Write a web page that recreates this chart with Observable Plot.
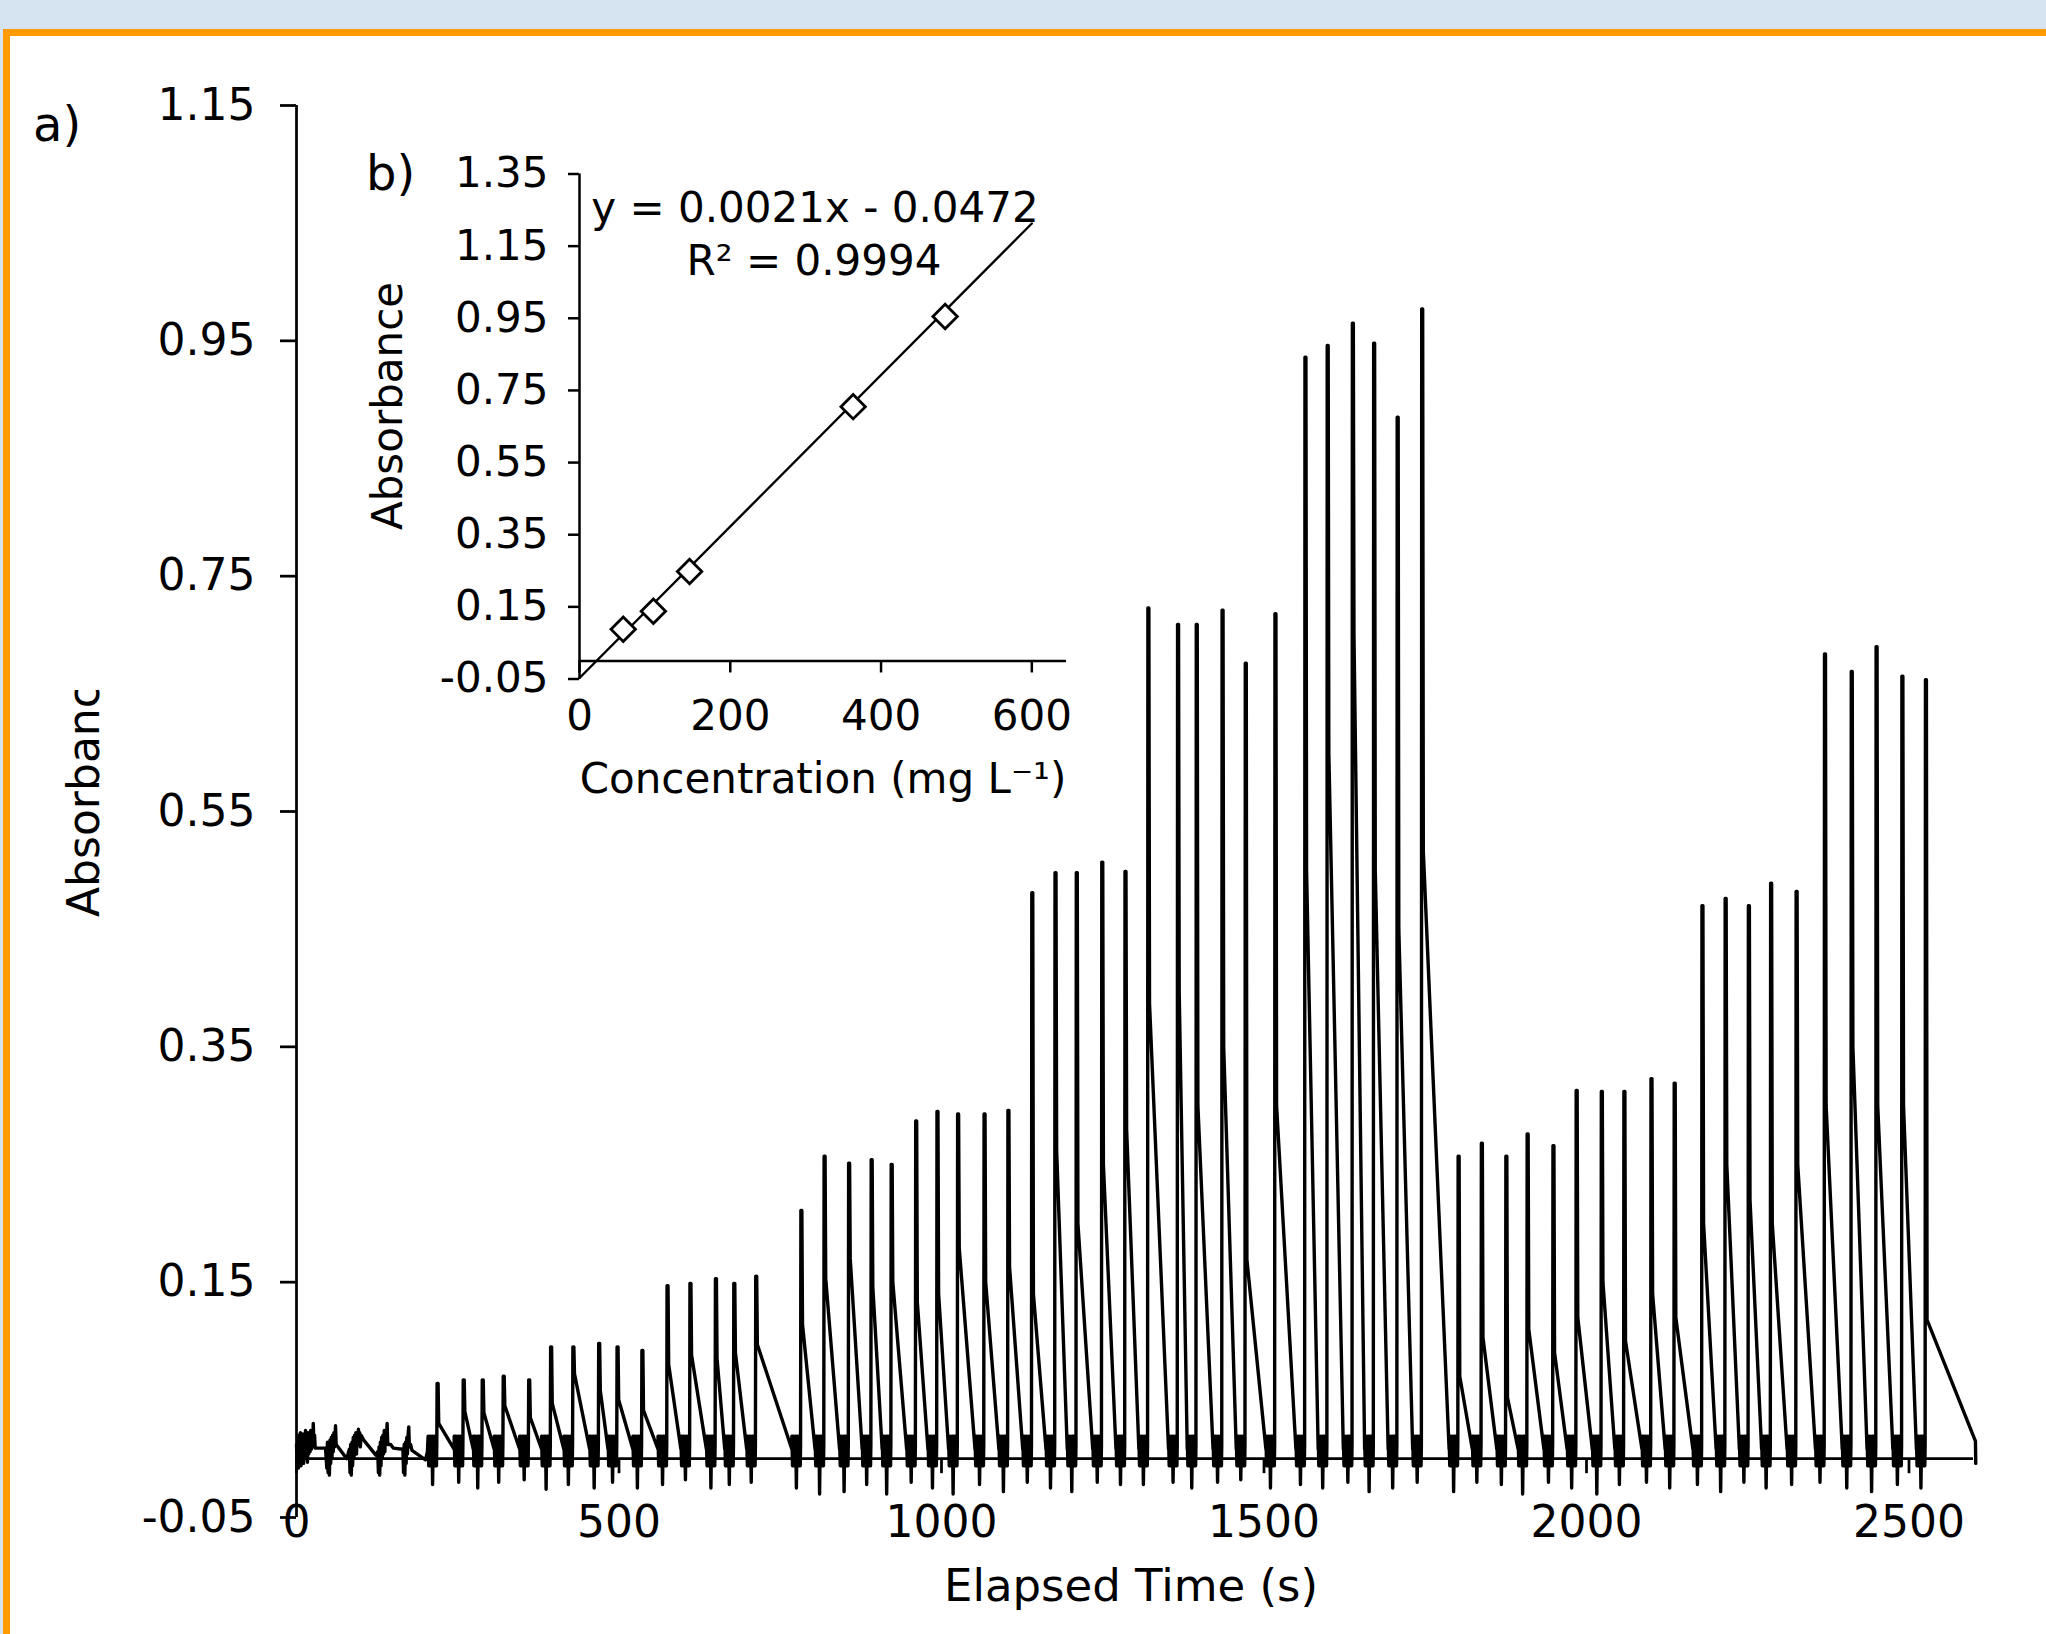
<!DOCTYPE html>
<html><head><meta charset="utf-8">
<script src="https://cdn.jsdelivr.net/npm/d3@7"></script>
<script src="https://cdn.jsdelivr.net/npm/@observablehq/plot@0.6"></script>
<style>
html, body { margin:0; padding:0; }
body { width:2046px; height:1634px; position:relative; overflow:hidden; background:#d6e4f2; font-family:"DejaVu Sans", Verdana, sans-serif; }
#frame { position:absolute; left:3px; top:29px; width:2100px; height:1700px; box-sizing:border-box; border-top:7px solid #ff9a00; border-left:7px solid #ff9a00; background:#fff; }
#chart, #inset { position:absolute; left:0; top:0; }
</style></head>
<body>
<div id="frame"></div>
<div id="chart"></div>
<div id="inset"></div>
<script>
// ---------- data: panel a) absorbance trace ----------
const mainXTicks = [0, 500, 1000, 1500, 2000, 2500];
const mainYTicks = [-0.05, 0.15, 0.35, 0.55, 0.75, 0.95, 1.15];

// start of the record: small zig-zag responses (time s, absorbance)
const startTimes = [0,1,2,3,4,5,6,7,8,9,10,11,12,13,14,15,16,17,18,19,20,21,22,23,24,25,26,27,28,29,45,47,48,49,50,51,52,53,54,55,56,57,58,59,60.5,61.5,78,82,83,84,85,86,87,88,89,90,91,92,93,94,95,96,97,98,99,100,104,123,126,127,128,129,130,131,132,133,134,135,136,137,138,139,140.5,141.5,146,150,165,166,167,168,169,170,171,172,173,174,175,177,179,200,203];
const startAbs = [0.012,-0.005,0.018,-0.008,0.02,0,0.022,-0.006,0.018,0.002,0.021,-0.004,0.019,0.005,0.024,0.002,0.02,-0.003,0.022,0.004,0.02,0.006,0.024,0.008,0.022,0.01,0.030,0.012,0.02,0.009,0.009,-0.008,0.014,-0.012,0.012,-0.014,0.016,-0.004,0.018,0,0.02,0.006,0.022,0.01,0.028,0.012,0,0.008,-0.012,0.012,-0.014,0.014,-0.006,0.018,0,0.02,0.006,0.022,0.004,0.02,0.012,0.025,0.012,0.022,0.01,0.02,0.016,0.003,0.006,-0.012,0.01,-0.014,0.014,-0.006,0.018,0,0.02,0.004,0.024,0.006,0.022,0.012,0.030,0.012,0.012,0.009,0.008,-0.012,0.012,-0.014,0.014,-0.004,0.018,0.004,0.02,0.027,0.01,0.012,0.007,-0.001,0.006];

// injection peaks: rise time, peak top, level after the fast drop, deepest baseline dip
const riseTimes = [218,258.5,288,320.5,360, 394,428.5,468.5,497,535.5, 574.5,610,649.5,678,712, 782,818,856,891,922, 960,993,1025,1066,1103, 1140,1176,1209,1248.5,1284.5, 1320,1366,1395,1435,1471,1517, 1563.5,1598,1637,1670,1706.5,1744.5, 1801,1837,1875,1908,1948, 1984,2023,2058,2100,2136, 2179,2215,2251,2285.5,2325, 2369,2410.5,2449,2489,2525.5];
const peakHeights = [0.064,0.067,0.067,0.070,0.067, 0.095,0.095,0.098,0.095,0.092, 0.147,0.149,0.153,0.149,0.155, 0.211,0.257,0.251,0.254,0.250, 0.287,0.295,0.293,0.293,0.296, 0.481,0.498,0.498,0.507,0.499, 0.723,0.709,0.709,0.721,0.676,0.718, 0.936,0.946,0.965,0.948,0.885,0.977, 0.257,0.268,0.257,0.276,0.266, 0.313,0.312,0.312,0.323,0.319, 0.470,0.476,0.470,0.489,0.482, 0.684,0.669,0.690,0.665,0.662];
const kinkLevels = [0.030,0.040,0.039,0.045,0.035, 0.047,0.072,0.058,0.050,0.041, 0.080,0.088,0.085,0.090,0.097, 0.114,0.153,0.170,0.146,0.150, 0.133,0.140,0.179,0.150,0.163, 0.140,0.262,0.200,0.250,0.280, 0.387,0.397,0.300,0.350,0.169,0.300, 0.500,0.600,0.700,0.500,0.450,0.516, 0.070,0.103,0.052,0.110,0.090, 0.120,0.150,0.100,0.140,0.120, 0.200,0.250,0.220,0.200,0.250, 0.300,0.350,0.300,0.300,0.118];
const dipLevels = [-0.022,-0.02,-0.025,-0.02,-0.018, -0.026,-0.022,-0.025,-0.02,-0.025, -0.022,-0.018,-0.025,-0.022,-0.02, -0.025,-0.03,-0.028,-0.022,-0.03, -0.02,-0.025,-0.03,-0.022,-0.028, -0.02,-0.025,-0.028,-0.02,-0.022, -0.022,-0.02,-0.025,-0.02,-0.018,-0.025, -0.022,-0.025,-0.02,-0.028,-0.025,-0.02, -0.028,-0.02,-0.022,-0.03,-0.02, -0.025,-0.03,-0.022,-0.02,-0.025, -0.022,-0.028,-0.02,-0.025,-0.022, -0.02,-0.025,-0.028,-0.022,-0.025];
const blobTop = 0.019;
const blobLow = -0.006;
const tailTimes = [2603, 2603.5];
const tailAbs = [0.015, -0.004];

// ---------- data: panel b) calibration ----------
const calConc = [58, 98, 146, 363, 485];
const calAbs = [0.088, 0.138, 0.248, 0.705, 0.955];
const fitConc = [0, 600];
const fitAbs = [-0.0472, 1.2128];
const insetXTicks = [0, 200, 400, 600];
const insetYTicks = [-0.05, 0.15, 0.35, 0.55, 0.75, 0.95, 1.15, 1.35];

// ---------- build trace table ----------
const trace = startTimes.map((t, i) => ({t, a: startAbs[i]}));
riseTimes.forEach((t, i) => {
  for (let k = 0, s = t - 14; s < t - 0.5; k++, s += 1)
    trace.push({t: s, a: k === 7 ? dipLevels[i] : (k % 2 ? blobLow : blobTop)});
  trace.push({t: t - 0.5, a: 0.012}, {t, a: peakHeights[i]}, {t: t + 1.5, a: peakHeights[i]}, {t: t + 2.5, a: kinkLevels[i]});
  if (i + 1 < riseTimes.length) trace.push({t: riseTimes[i + 1] - 14, a: 0.008});
});
tailTimes.forEach((t, i) => trace.push({t, a: tailAbs[i]}));

const cal = calConc.map((c, i) => ({c, a: calAbs[i]}));
const fit = fitConc.map((c, i) => ({c, a: fitAbs[i]}));

const W = 2046, H = 1634;
const FONT = "'DejaVu Sans', Verdana, sans-serif";
const fmt = d => d.toFixed(2);

const main = Plot.plot({
  width: W, height: H,
  marginLeft: 296, marginRight: 73, marginTop: 105, marginBottom: 117,
  x: {domain: [0, 2600], axis: null},
  y: {domain: [-0.05, 1.15], axis: null},
  style: {background: "transparent", fontFamily: FONT, fontSize: "44px", color: "#000", overflow: "visible"},
  marks: [
    Plot.ruleY([0], {stroke: "#000", strokeWidth: 2.75}),
    Plot.ruleX([0], {stroke: "#000", strokeWidth: 2.75}),
    Plot.ruleX(mainXTicks, {x: d => d, y1: 0, y2: 0, insetBottom: -15, stroke: "#000", strokeWidth: 2.75}),
    Plot.axisY(mainYTicks, {tickSize: 16, tickPadding: 25, tickFormat: fmt, strokeWidth: 2.75, label: null}),
    Plot.text(mainXTicks, {x: d => d, y: () => -0.05, dy: 5, lineAnchor: "middle", text: d => String(d), fill: "#000"}),
    Plot.line(trace, {x: "t", y: "a", stroke: "#000", strokeWidth: 3.4})
  ]
});
document.getElementById("chart").append(main);

const inset = Plot.plot({
  width: W, height: H,
  marginLeft: 579, marginRight: 980, marginTop: 173.5, marginBottom: 955.5,
  x: {domain: [0, 646], axis: null},
  y: {domain: [-0.05, 1.35], axis: null},
  style: {background: "transparent", fontFamily: FONT, fontSize: "42px", color: "#000", overflow: "visible"},
  marks: [
    Plot.ruleY([0], {stroke: "#000", strokeWidth: 2.5}),
    Plot.ruleX([0], {stroke: "#000", strokeWidth: 2.5}),
    Plot.ruleX(insetXTicks, {x: d => d, y1: 0, y2: 0, insetBottom: -12, stroke: "#000", strokeWidth: 2.5}),
    Plot.axisY(insetYTicks, {tickSize: 11, tickPadding: 20, tickFormat: fmt, strokeWidth: 2.5, label: null}),
    Plot.text(insetXTicks, {x: d => d, y: () => -0.05, dy: 38, lineAnchor: "middle", text: d => String(d), fill: "#000"}),
    Plot.line(fit, {x: "c", y: "a", stroke: "#000", strokeWidth: 2.4}),
    Plot.dot(cal, {x: "c", y: "a", symbol: "diamond2", r: 11, fill: "#fff", stroke: "#000", strokeWidth: 2.8})
  ]
});
document.getElementById("inset").append(inset);

// ---------- titles ----------
const s = d3.select(main);
function label(sel, x, y, txt, size, anchor) {
  return sel.append("text").attr("x", x).attr("y", y).attr("font-size", size)
    .attr("text-anchor", anchor || "start").attr("fill", "#000").attr("font-family", FONT).text(txt);
}
label(s, 33, 141, "a)", 48);
label(s, 1131, 1601, "Elapsed Time (s)", 45, "middle");
s.append("clipPath").attr("id", "ytclip").append("rect").attr("x", 40).attr("y", 690).attr("width", 80).attr("height", 250);
s.append("g").attr("clip-path", "url(#ytclip)")
  .append("text").attr("transform", "translate(99,917) rotate(-90)").attr("font-size", 44)
  .attr("text-anchor", "start").attr("font-family", FONT).attr("fill", "#000").text("Absorbance");

const si = d3.select(inset);
label(si, 366, 190, "b)", 48);
label(si, 815, 222, "y = 0.0021x - 0.0472", 42, "middle");
label(si, 814, 275, "R² = 0.9994", 42, "middle");
label(si, 823, 793, "Concentration (mg L⁻¹)", 42, "middle");
si.append("text").attr("transform", "translate(402,406) rotate(-90)").attr("font-size", 42)
  .attr("text-anchor", "middle").attr("font-family", FONT).attr("fill", "#000").text("Absorbance");
</script>
</body></html>
